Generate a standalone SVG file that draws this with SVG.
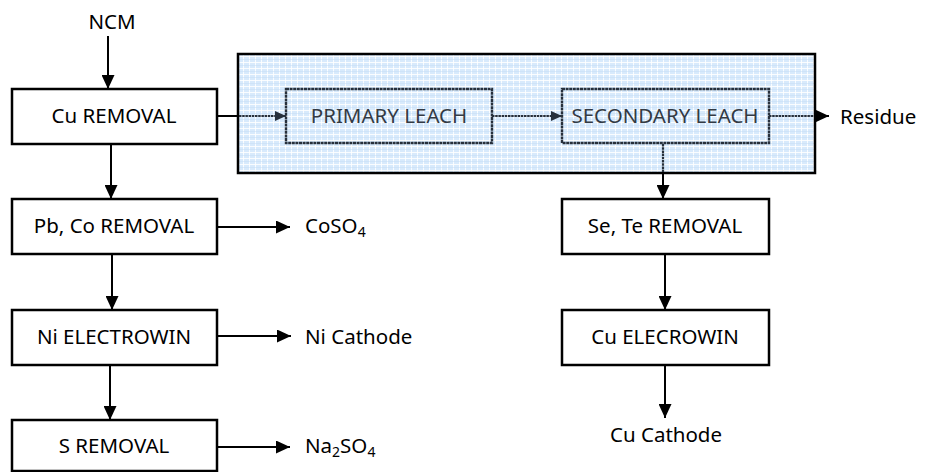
<svg xmlns="http://www.w3.org/2000/svg" width="930" height="472" viewBox="0 0 930 472">
  <style>
    .box { fill: #ffffff; stroke: #000000; stroke-width: 2.5; }
    .ibox { fill: none; stroke: #27303c; stroke-width: 2.4; stroke-dasharray: 3 0.6; }
    .t { font-family: "Noto Sans", "Open Sans", sans-serif; font-size: 20.5px; fill: #000000; }
    .ti { font-family: "Noto Sans", "Open Sans", sans-serif; font-size: 20.5px; fill: #333a44; }
    .c { stroke: #000000; stroke-width: 2; fill: none; }
    .ci { stroke: #27303c; stroke-width: 2.2; fill: none; stroke-dasharray: 2.5 0.7; }
  </style>
  <defs>
    <pattern id="grid" width="6" height="6" patternUnits="userSpaceOnUse">
      <rect width="6" height="6" fill="#d8eafc"/>
      <rect x="0" y="2" width="6" height="1" fill="#ffffff" opacity="0.85"/>
      <rect x="3" y="0" width="1" height="6" fill="#ffffff" opacity="0.85"/>
      <rect x="0" y="5" width="6" height="0.5" fill="#c4dcf5"/>
    </pattern>
    <marker id="ah" markerUnits="userSpaceOnUse" markerWidth="14" markerHeight="13" refX="14" refY="6.5" orient="auto">
      <path d="M0,0 L14,6.5 L0,13 z" fill="#000000"/>
    </marker>
    <marker id="ahi" markerUnits="userSpaceOnUse" markerWidth="11" markerHeight="10" refX="11" refY="5" orient="auto">
      <path d="M0,0 L11,5 L0,10 z" fill="#27303c"/>
    </marker>
  </defs>

  <g id="leach-area">
    <rect x="238" y="54" width="577" height="119" fill="url(#grid)" stroke="#000000" stroke-width="2.5"/>
  </g>

  <g id="connectors">
    <line class="c" x1="108" y1="36" x2="108" y2="89" marker-end="url(#ah)"/>
    <line class="c" x1="111" y1="144" x2="111" y2="199" marker-end="url(#ah)"/>
    <line class="c" x1="112" y1="254" x2="112" y2="310" marker-end="url(#ah)"/>
    <line class="c" x1="110" y1="365" x2="110" y2="420" marker-end="url(#ah)"/>
    <line class="c" x1="217" y1="227" x2="290" y2="227" marker-end="url(#ah)"/>
    <line class="c" x1="217" y1="336" x2="291" y2="336" marker-end="url(#ah)"/>
    <line class="c" x1="217" y1="447" x2="290" y2="447" marker-end="url(#ah)"/>
    <line class="c" x1="217" y1="116" x2="239" y2="116"/>
    <line class="ci" x1="239" y1="116" x2="286" y2="116" marker-end="url(#ahi)"/>
    <line class="ci" x1="492" y1="116" x2="562" y2="116" marker-end="url(#ahi)"/>
    <line class="ci" x1="769" y1="116" x2="815" y2="116"/>
    <line class="c" x1="814" y1="116" x2="829" y2="116" marker-end="url(#ah)"/>
    <line class="ci" x1="663" y1="144" x2="663" y2="173"/>
    <line class="c" x1="663" y1="172" x2="663" y2="199" marker-end="url(#ah)"/>
    <line class="c" x1="665" y1="254" x2="665" y2="310" marker-end="url(#ah)"/>
    <line class="c" x1="665" y1="365" x2="665" y2="418" marker-end="url(#ah)"/>
  </g>

  <g id="ncm"><text class="t" x="112" y="29" text-anchor="middle">NCM</text></g>

  <g id="cu-removal">
    <rect class="box" x="12" y="89" width="205" height="55"/>
    <text class="t" x="114" y="123" text-anchor="middle">Cu REMOVAL</text>
  </g>
  <g id="pb-co-removal">
    <rect class="box" x="12" y="199" width="205" height="55"/>
    <text class="t" x="114" y="233" text-anchor="middle">Pb, Co REMOVAL</text>
  </g>
  <g id="ni-electrowin">
    <rect class="box" x="12" y="310" width="205" height="55"/>
    <text class="t" x="114" y="344" text-anchor="middle">Ni ELECTROWIN</text>
  </g>
  <g id="s-removal">
    <rect class="box" x="12" y="420" width="205" height="51"/>
    <text class="t" x="114" y="453" text-anchor="middle">S REMOVAL</text>
  </g>

  <g id="primary-leach">
    <rect class="ibox" x="286" y="89" width="206" height="54"/>
    <text class="ti" x="389" y="123" text-anchor="middle">PRIMARY LEACH</text>
  </g>
  <g id="secondary-leach">
    <rect class="ibox" x="562" y="89" width="207" height="54"/>
    <text class="ti" x="665" y="123" text-anchor="middle">SECONDARY LEACH</text>
  </g>

  <g id="se-te-removal">
    <rect class="box" x="562" y="199" width="207" height="55"/>
    <text class="t" x="665" y="233" text-anchor="middle">Se, Te REMOVAL</text>
  </g>
  <g id="cu-elecrowin">
    <rect class="box" x="562" y="310" width="207" height="55"/>
    <text class="t" x="665" y="344" text-anchor="middle">Cu ELECROWIN</text>
  </g>

  <g id="coso4"><text class="t" x="305" y="233">CoSO<tspan font-size="14" dy="4">4</tspan></text></g>
  <g id="ni-cathode"><text class="t" x="305" y="344">Ni Cathode</text></g>
  <g id="na2so4"><text class="t" x="305" y="453">Na<tspan font-size="14" dy="4">2</tspan><tspan dy="-4">SO</tspan><tspan font-size="14" dy="4">4</tspan></text></g>
  <g id="residue"><text class="t" x="840" y="124">Residue</text></g>
  <g id="cu-cathode"><text class="t" x="666" y="442" text-anchor="middle">Cu Cathode</text></g>
</svg>
